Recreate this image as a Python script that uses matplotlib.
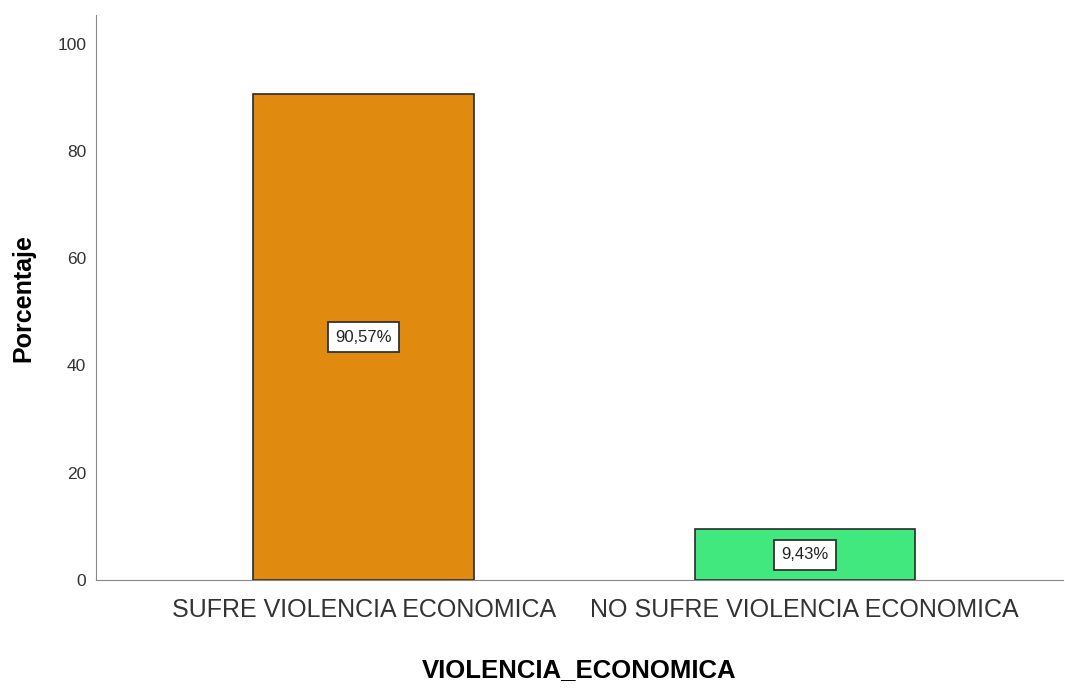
import matplotlib.pyplot as plt

categorias = ['SUFRE VIOLENCIA ECONOMICA', 'NO SUFRE VIOLENCIA ECONOMICA']
porcentajes = [90.57, 9.43]
etiquetas = ['90,57%', '9,43%']
colores = ['#E08A0F', '#40E87E']

plt.rcParams['font.family'] = ['Liberation Sans', 'DejaVu Sans']

fig = plt.figure(figsize=(10.65, 6.91), dpi=100)
ax = fig.add_axes([0.090, 0.1606, 0.908, 0.8174])

x = range(len(categorias))
ax.bar(x, porcentajes, width=0.5, color=colores, edgecolor='#2b2b2b', linewidth=1.2, zorder=2)

# etiquetas de porcentaje en el centro de cada barra
for xi, v, t in zip(x, porcentajes, etiquetas):
    ax.text(xi, v / 2, t, ha='center', va='center', fontsize=12, color='#222222',
            bbox=dict(boxstyle='square,pad=0.45', facecolor='white', edgecolor='#333333', linewidth=1.3),
            zorder=3)

ax.set_xlim(-0.607, 1.585)
ax.set_ylim(0, 105.3)
ax.set_yticks([0, 20, 40, 60, 80, 100])
ax.set_xticks(list(x))
ax.set_xticklabels(categorias, fontsize=18, color='#333333')
ax.tick_params(axis='y', labelsize=12.5, length=0, pad=7, colors='#333333')
ax.tick_params(axis='x', length=0, pad=13)

for lado in ['top', 'right']:
    ax.spines[lado].set_visible(False)
ax.spines['left'].set_color('#888888')
ax.spines['bottom'].set_color('#888888')

ax.set_ylabel('Porcentaje', fontsize=18, fontweight='bold', labelpad=16)
ax.set_xlabel('VIOLENCIA_ECONOMICA', fontsize=18.5, fontweight='bold', labelpad=26)

fig.savefig('out.png', dpi=100, facecolor='white')
